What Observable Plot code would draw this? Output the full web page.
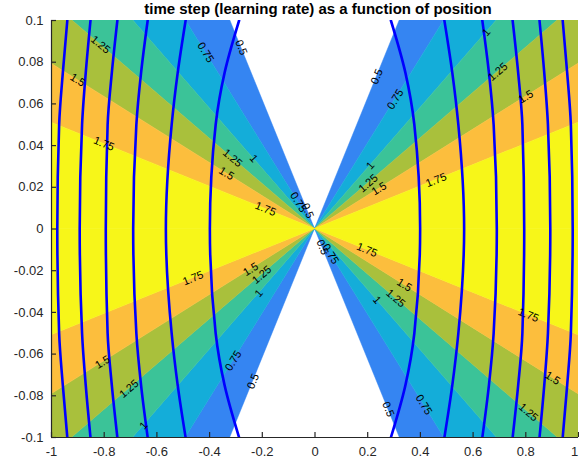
<!DOCTYPE html>
<html><head><meta charset="utf-8">
<script src="https://cdn.jsdelivr.net/npm/d3@7"></script>
<script src="https://cdn.jsdelivr.net/npm/@observablehq/plot@0.6"></script>
<style>html,body{margin:0;padding:0;background:#fff;overflow:hidden}</style>
</head><body><div id="chart"></div>
<script>
const title = "time step (learning rate) as a function of position";
const xDomain = [-1, 1];
const yDomain = [-0.1, 0.1];
const xTicks = [-1, -0.8, -0.6, -0.4, -0.2, 0, 0.2, 0.4, 0.6, 0.8, 1];
const yTicks = [-0.1, -0.08, -0.06, -0.04, -0.02, 0, 0.02, 0.04, 0.06, 0.08, 0.1];

// filled contour levels and the |y|/|x| ratio along each level line (wedges through the origin)
const levels = [0.5, 0.75, 1, 1.25, 1.5, 1.75];
const levelSlopes = [0.311, 0.204, 0.145, 0.1086, 0.0793, 0.051];
const bandColors = ["#3585F2", "#14ADD9", "#3BC398", "#A9C03C", "#FCBE3D", "#F7F619"];

// blue contour curves: |x| read at |y| = 0, 0.05, 0.075, 0.1
const curveAbsY = [0, 0.05, 0.075, 0.1];
const curveX0   = [0.399, 0.566, 0.690, 0.794, 0.893, 0.978];
const curveX05  = [0.377, 0.544, 0.678, 0.787, 0.884, 0.971];
const curveX075 = [0.343, 0.521, 0.660, 0.771, 0.870, 0.957];
const curveX10  = [0.288, 0.491, 0.635, 0.750, 0.852, 0.940];

// contour labels: level, x position, side (+1 above, -1 below)
const labelLevel = [1.25, 0.75, 0.5, 1.5, 1.75, 1.25, 1, 1.5, 1.75, 0.75, 0.5,
                    0.5, 0.75, 1, 1.25, 1.5, 1, 1.25, 1.5, 1.75,
                    1.75, 1.5, 1.25, 1, 0.75, 0.5, 1.5, 1.25, 1,
                    0.5, 0.75, 1.75, 1.5, 1.25, 1, 1.75, 1.5, 0.75, 0.5, 1.25];
const labelX = [-0.814, -0.415, -0.280, -0.901, -0.801, -0.313, -0.233, -0.336, -0.188, -0.063, -0.028,
                0.235, 0.305, 0.65, 0.694, 0.80, 0.21, 0.202, 0.243, 0.46,
                -0.463, -0.244, -0.202, -0.213, -0.31, -0.235, -0.806, -0.706, -0.65,
                0.028, 0.059, 0.197, 0.339, 0.306, 0.235, 0.81, 0.902, 0.413, 0.278, 0.81];
const labelSide = [1, 1, 1, 1, 1, 1, 1, 1, 1, 1, 1,
                   1, 1, 1, 1, 1, 1, 1, 1, 1,
                   -1, -1, -1, -1, -1, -1, -1, -1, -1,
                   -1, -1, -1, -1, -1, -1, -1, -1, -1, -1, -1];

const width = 579, height = 468;
const mL = 51, mR = 1, mT = 20, mB = 31;
const kx = (width - mL - mR) / (xDomain[1] - xDomain[0]);
const ky = (height - mT - mB) / (yDomain[1] - yDomain[0]);
const tickLen = 5;

const slopeOf = (lv) => levelSlopes[levels.indexOf(lv)];

// band wedges
const bandRows = [];
levels.forEach((lv, k) => {
  const hi = levelSlopes[k];
  const lo = k < levels.length - 1 ? levelSlopes[k + 1] : 0;
  for (const s of [1, -1]) {
    for (const x of [xDomain[0], 0, xDomain[1]]) {
      bandRows.push({band: k, grp: k + "_" + s, x, y1: s * lo * Math.abs(x), y2: s * hi * Math.abs(x)});
    }
  }
});

// blue curves
const curveRows = [];
curveX0.forEach((x0, i) => {
  const absX = [curveX10[i], curveX075[i], curveX05[i], curveX0[i], curveX05[i], curveX075[i], curveX10[i]];
  const ys = [-curveAbsY[3], -curveAbsY[2], -curveAbsY[1], curveAbsY[0], curveAbsY[1], curveAbsY[2], curveAbsY[3]];
  for (const sx of [-1, 1]) {
    ys.forEach((y, j) => curveRows.push({grp: i + "_" + sx, x: sx * absX[j], y}));
  }
});

// labels
const labelRows = labelLevel.map((lv, i) => {
  const s = slopeOf(lv);
  const x = labelX[i];
  const side = labelSide[i];
  const ang = Math.atan(s * ky / kx) * 180 / Math.PI;
  return {text: String(lv), x, y: side * s * Math.abs(x), rotate: (x * side < 0 ? 1 : -1) * ang};
});

const fmt = (d) => String(d);
const axisColor = "#262626";
const lastX = xTicks[xTicks.length - 1];

const chart = Plot.plot({
  width, height,
  marginLeft: mL, marginRight: mR, marginTop: mT, marginBottom: mB,
  style: {fontFamily: "'Liberation Sans', Arial, Helvetica, sans-serif", fontSize: "13px", color: axisColor, background: "#fff"},
  x: {domain: xDomain},
  y: {domain: yDomain},
  color: {type: "identity"},
  marks: [
    Plot.areaY(bandRows, {x: "x", y1: "y1", y2: "y2", z: "grp", fill: (d) => bandColors[d.band], stroke: (d) => bandColors[d.band], strokeWidth: 0.5, clip: true}),
    Plot.line(curveRows, {x: "x", y: "y", z: "grp", stroke: "#0000FF", strokeWidth: 2.6, curve: "monotone-y", clip: true}),
    Plot.text(labelRows, {x: "x", y: "y", text: "text", rotate: "rotate", fontSize: 11, fill: "black"}),
    Plot.ruleY([yDomain[0]], {stroke: axisColor, strokeWidth: 1.2}),
    Plot.ruleX([xDomain[0]], {stroke: axisColor, strokeWidth: 1.2}),
    Plot.ruleX(xTicks, {x: (d) => d, y1: yDomain[0], y2: yDomain[0] + tickLen / ky, stroke: axisColor, strokeWidth: 1.2}),
    Plot.ruleY(yTicks, {y: (d) => d, x1: xDomain[0], x2: xDomain[0] + tickLen / kx, stroke: axisColor, strokeWidth: 1.2}),
    Plot.axisX(xTicks.filter((d) => d !== lastX), {tickSize: 0, tickPadding: 9, tickFormat: fmt, fontSize: 13, label: null}),
    Plot.axisX([lastX], {tickSize: 0, tickPadding: 9, tickFormat: fmt, fontSize: 13, label: null, dx: -4}),
    Plot.axisY(yTicks, {tickSize: 0, tickPadding: 8, tickFormat: fmt, fontSize: 13, label: null}),
    Plot.text([title], {frameAnchor: "top", dx: 3, dy: -11.5, lineAnchor: "middle", fontWeight: "bold", fontSize: 15, fill: "black"})
  ]
});
document.getElementById("chart").appendChild(chart);
</script>
</body></html>
